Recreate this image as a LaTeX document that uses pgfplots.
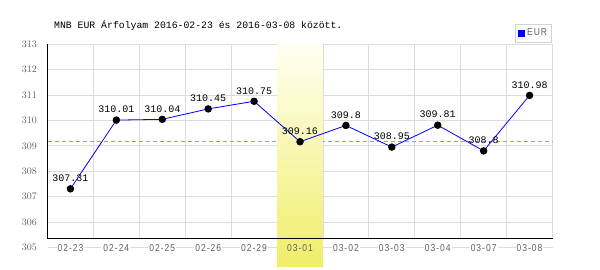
\documentclass[border=0pt]{standalone}
\usepackage{fontspec}
\usepackage{pgfplots}
\pgfplotsset{compat=1.18}
\setmainfont{Liberation Sans}
\newfontfamily\monofont{Liberation Mono}
\newfontfamily\ytickfont[FakeStretch=0.75]{Liberation Sans}
\newfontfamily\xtickfont[FakeStretch=0.85,LetterSpace=10]{Liberation Sans}
\definecolor{tickgray}{RGB}{95,95,95}
\definecolor{gridgray}{RGB}{221,221,221}
\definecolor{dashblue}{RGB}{150,150,245}
\definecolor{bandtop}{RGB}{255,255,242}
\definecolor{bandbot}{RGB}{240,238,105}
\definecolor{legborder}{RGB}{210,210,210}
\setlength{\fboxsep}{1pt}
\begin{document}
\begin{tikzpicture}[x=1pt,y=1pt]
\path[use as bounding box] (0,0) rectangle (600,270);
\node[anchor=west,inner sep=0pt,font={\monofont\fontsize{9.8}{11}\selectfont}] at (54,244.3) {MNB EUR Árfolyam 2016-02-23 és 2016-03-08 között.};
\begin{axis}[
  at={(47.5pt,22.4pt)}, anchor=south west,
  scale only axis, width=505pt, height=203.6pt,
  xmin=-0.5, xmax=10.5, ymin=305, ymax=313,
  clip=false,
  axis line style={draw=none},
  tick style={draw=none},
  ytick={305,306,...,313},
  ymajorgrids, grid style={gridgray, line width=0.8pt},
  xtick={0,...,10},
  xticklabels={\colorbox{white}{02-23},\colorbox{white}{02-24},\colorbox{white}{02-25},\colorbox{white}{02-26},\colorbox{white}{02-29},{},\colorbox{white}{03-02},\colorbox{white}{03-03},\colorbox{white}{03-04},\colorbox{white}{03-07},\colorbox{white}{03-08}},
  xticklabel style={anchor=center, inner sep=0pt, text=tickgray, font={\xtickfont\fontsize{10}{11}\selectfont}},
  yticklabel style={anchor=east, inner sep=0pt, xshift=-10.5pt, text=tickgray, font={\ytickfont\fontsize{10.3}{11}\selectfont}},
  legend style={at={(rel axis cs:1,1)}, anchor=south east, yshift=1.7pt, xshift=-0.5pt,
    draw=legborder, line width=0.8pt, inner xsep=2.5pt, inner ysep=2.5pt,
    font={\xtickfont\fontsize{10}{11}\selectfont}, text=tickgray,
    /tikz/every even column/.append style={column sep=0pt}},
  legend cell align=left,
]
% vertical grid lines
\pgfplotsinvokeforeach{0.5,1.5,2.5,3.5,4.5,5.5,6.5,7.5,8.5,9.5,10.5}{
  \draw[gridgray, line width=0.8pt] (axis cs:#1,305.365) -- (axis cs:#1,313);
}
% reference line at the highlighted day's value
\addplot[forget plot, dashblue, line width=0.8pt, dash pattern=on 4pt off 3pt] coordinates {(-0.5,309.16) (10.5,309.16)};
% highlighted day band
\fill[top color=bandtop, bottom color=bandbot, draw=none] (axis cs:4.5,304.27) rectangle (axis cs:5.5,313);
% tick label of the highlighted day, set on the band
\node[anchor=center, inner sep=1pt, text=tickgray, font={\xtickfont\fontsize{10}{11}\selectfont}] at (axis cs:5,305) {03-01};
% data
\addplot[blue, line width=0.8pt, mark=*, mark size=3.3pt,
  mark options={fill=black, draw=black},
  point meta=explicit symbolic,
  nodes near coords={\pgfplotspointmeta},
  every node near coord/.append style={anchor=center, yshift=10.5pt, text=black, inner sep=0pt, font={\monofont\fontsize{10}{11}\selectfont}},
  legend image code/.code={\fill[blue] (0pt,-3pt) rectangle (6pt,3pt);}
] table[meta=label] {
x y label
0 307.31 307.31
1 310.01 310.01
2 310.04 310.04
3 310.45 310.45
4 310.75 310.75
5 309.16 309.16
6 309.8 309.8
7 308.95 308.95
8 309.81 309.81
9 308.8 308.8
10 310.98 310.98
};
\addlegendentry{EUR}
% axis lines
\draw[black, line width=1pt] (axis cs:-0.5,313) -- (axis cs:-0.5,305.365) -- (axis cs:10.5,305.365);
\end{axis}
\end{tikzpicture}
\end{document}
